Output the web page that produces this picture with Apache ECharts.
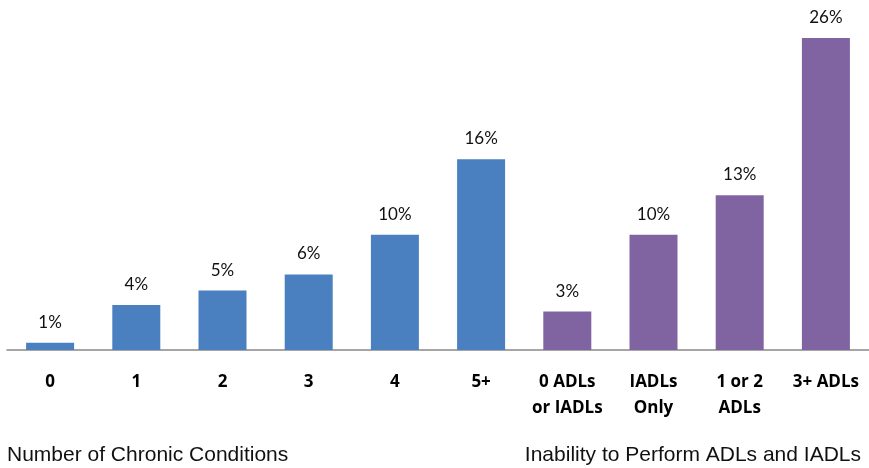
<!DOCTYPE html>
<html><head><meta charset="utf-8">
<script src="https://cdn.jsdelivr.net/npm/echarts@6/dist/echarts.min.js"></script>
<style>html,body{margin:0;padding:0;background:#fff}#c{width:869px;height:468px}</style>
</head><body><div id="c"></div>
<script>
var categories = ['0','1','2','3','4','5+','0 ADLs\nor IADLs','IADLs\nOnly','1 or 2\nADLs','3+ ADLs'];
var values = [0.6, 3.75, 4.95, 6.3, 9.6, 15.9, 3.2, 9.6, 12.9, 26.0];
var groups = ['chronic','chronic','chronic','chronic','chronic','chronic','adl','adl','adl','adl'];
var groupColors = {chronic:'#4A80C0', adl:'#8064A2'};
var groupTitles = ['Number of Chronic Conditions','Inability to Perform ADLs and IADLs'];

var chart = echarts.init(document.getElementById('c'));
chart.setOption({
  animation:false,
  grid:{left:7,right:0,top:14,bottom:118,containLabel:false},
  xAxis:{type:'category',data:categories,
    axisLine:{lineStyle:{color:'#898989',width:1.5}},
    axisTick:{alignWithLabel:false,length:8,lineStyle:{color:'#898989',width:1.5}},
    axisLabel:{interval:0,margin:19,color:'#000',fontWeight:'bold',fontSize:17,fontFamily:'"Open Sans"',lineHeight:26,verticalAlign:'top'}
  },
  yAxis:{type:'value',min:0,max:28,show:false,splitLine:{show:false}},
  series:[{type:'bar',barWidth:48,
    data:values.map(function(v,i){return {value:v,itemStyle:{color:groupColors[groups[i]]}};}),
    label:{show:true,position:'top',distance:12,color:'#111',fontSize:17,fontFamily:'Lato',
      formatter:function(p){return Math.round(p.value)+'%';}}
  }],
  graphic:[
    {type:'text',x:7,y:455,style:{text:groupTitles[0],font:'21px "Liberation Sans", Arial',fill:'#111',textVerticalAlign:'middle'}},
    {type:'text',x:861,y:455,style:{text:groupTitles[1],font:'21px "Liberation Sans", Arial',fill:'#111',textAlign:'right',textVerticalAlign:'middle'}}
  ]
});
</script></body></html>
